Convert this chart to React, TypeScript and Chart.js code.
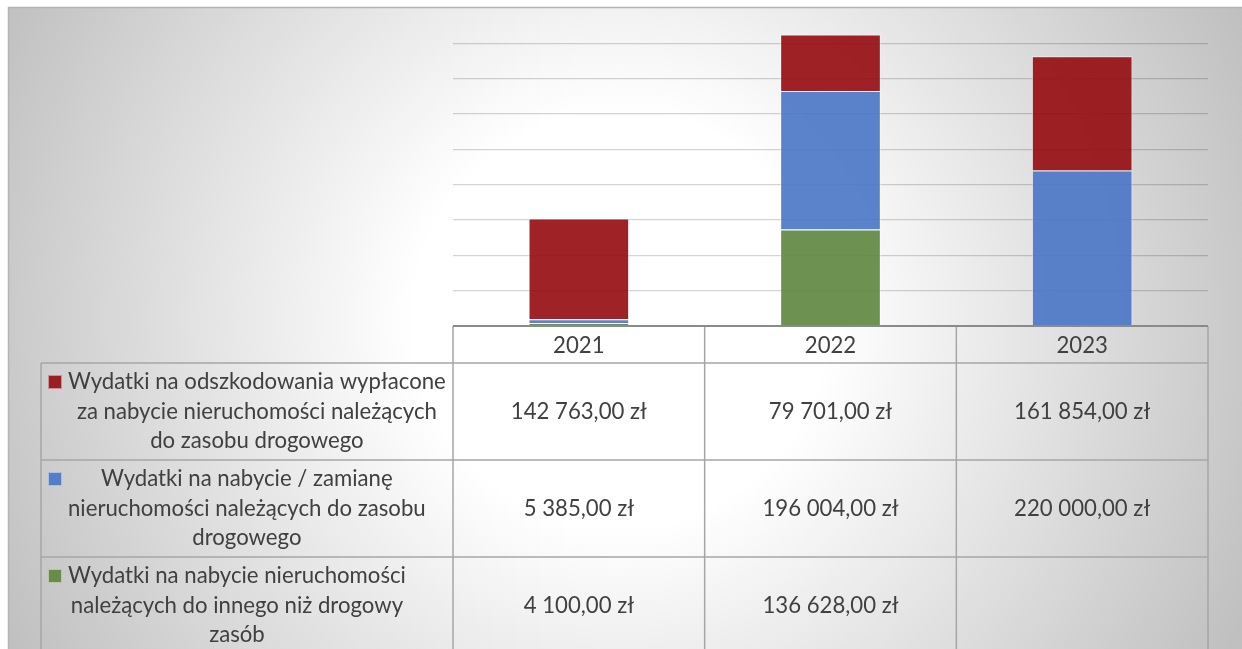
import React, { useEffect, useRef } from 'react';
import { Chart, registerables } from 'chart.js';

Chart.register(...registerables);

// ---- Data ----
const categories = ['2021', '2022', '2023'];
const odszkodowania: (number | null)[] = [142763, 79701, 161854];
const nabycieZamiana: (number | null)[] = [5385, 196004, 220000];
const innyZasob: (number | null)[] = [4100, 136628, null];

const seriesNames = [
  'Wydatki na odszkodowania wypłacone za nabycie nieruchomości należących do zasobu drogowego',
  'Wydatki na nabycie / zamianę nieruchomości należących do zasobu drogowego',
  'Wydatki na nabycie nieruchomości należących do innego niż drogowy zasób',
];
const legendLines = [
  ['Wydatki na odszkodowania wypłacone', 'za nabycie nieruchomości należących', 'do zasobu drogowego'],
  ['Wydatki na nabycie / zamianę', 'nieruchomości należących do zasobu', 'drogowego'],
  ['Wydatki na nabycie nieruchomości', 'należących do innego niż drogowy', 'zasób'],
];
const yMax = 450000;
const yStep = 50000;

const RED = 'rgba(147,10,14,0.9)';
const BLUE = 'rgba(73,117,197,0.9)';
const GREEN = 'rgba(92,133,61,0.9)';

function fmt(v: number | null | undefined): string {
  if (v === null || v === undefined) return '';
  const s = Math.round(v).toString().replace(/\B(?=(\d{3})+(?!\d))/g, ' ');
  return s + ',00 zł';
}

const FONT = 'Lato, "Open Sans", sans-serif';

export default function App() {
  const ref = useRef<HTMLCanvasElement>(null);

  useEffect(() => {
    const canvas = ref.current!;
    const W = 1242;
    const H = 649;

    const bgPlugin = {
      id: 'bgFrame',
      beforeDraw(chart: any) {
        const ctx = chart.ctx as CanvasRenderingContext2D;
        ctx.save();
        ctx.fillStyle = '#ffffff';
        ctx.fillRect(0, 0, W, H);
        const g = ctx.createRadialGradient(620, 320, 0, 620, 320, 690);
        g.addColorStop(0, '#ffffff');
        g.addColorStop(0.3, '#ffffff');
        g.addColorStop(1, '#c0c0c0');
        ctx.fillStyle = g;
        ctx.fillRect(8, 7, W - 8, H - 7);
        ctx.strokeStyle = '#b4b4b4';
        ctx.lineWidth = 1.5;
        ctx.beginPath();
        ctx.moveTo(8, 7.5);
        ctx.lineTo(W, 7.5);
        ctx.moveTo(8.5, 7);
        ctx.lineTo(8.5, H);
        ctx.stroke();
        ctx.restore();
      },
    };

    const tablePlugin = {
      id: 'dataTable',
      afterDraw(chart: any) {
        const ctx = chart.ctx as CanvasRenderingContext2D;
        const area = chart.chartArea;
        const left = area.left;
        const right = area.right;
        const axisY = area.bottom;
        const n = categories.length;
        const colW = (right - left) / n;
        const headerBottom = axisY + 37;
        const rowH = 97;
        const legendLeft = 41;
        const lineH = 29.5;

        const line = (x1: number, y1: number, x2: number, y2: number) => {
          ctx.beginPath();
          ctx.moveTo(x1, y1);
          ctx.lineTo(x2, y2);
          ctx.stroke();
        };

        ctx.save();
        ctx.strokeStyle = '#a6a6a6';
        ctx.lineWidth = 1.5;
        for (let r = 0; r <= 3; r++) {
          const y = headerBottom + r * rowH;
          line(legendLeft, y, right, y);
        }
        line(legendLeft, headerBottom, legendLeft, H);
        for (let i = 0; i <= n; i++) {
          const x = left + i * colW;
          line(x, axisY, x, H);
        }
        ctx.strokeStyle = '#8a8a8a';
        ctx.lineWidth = 2;
        line(left, axisY, right, axisY);

        // font size fitted to the reference text width
        let size = 22;
        ctx.font = `${size}px ${FONT}`;
        const m = ctx.measureText(legendLines[0][0]).width;
        size = (size * 378) / m;
        ctx.font = `${size}px ${FONT}`;
        ctx.fillStyle = '#404040';
        ctx.textAlign = 'center';
        ctx.textBaseline = 'middle';

        categories.forEach((c, i) => {
          ctx.fillText(c, left + (i + 0.5) * colW, axisY + 19.5);
        });

        const rowSeries = [odszkodowania, nabycieZamiana, innyZasob];
        const rowColors = [RED, BLUE, GREEN];
        rowSeries.forEach((series, r) => {
          const cy = headerBottom + r * rowH + rowH / 2;
          const lines = legendLines[r];
          let maxW = 0;
          lines.forEach((t) => {
            maxW = Math.max(maxW, ctx.measureText(t).width);
          });
          const cx = 68 + maxW / 2;
          lines.forEach((t, l) => {
            const y = cy + (l - (lines.length - 1) / 2) * lineH;
            ctx.fillText(t, cx, y);
          });
          const firstY = cy - ((lines.length - 1) / 2) * lineH;
          ctx.fillStyle = rowColors[r];
          ctx.fillRect(48, firstY - 7, 14, 14);
          ctx.strokeStyle = 'rgba(255,255,255,0.5)';
          ctx.lineWidth = 1;
          ctx.strokeRect(48.5, firstY - 6.5, 13, 13);
          ctx.fillStyle = '#404040';
          series.forEach((v, i) => {
            const txt = fmt(v);
            if (txt) ctx.fillText(txt, left + (i + 0.5) * colW, cy);
          });
        });
        ctx.restore();
      },
    };

    const chart = new Chart(canvas, {
      type: 'bar',
      data: {
        labels: categories,
        datasets: [
          { label: seriesNames[2], data: innyZasob, backgroundColor: GREEN, borderColor: 'rgba(255,255,255,0.55)', borderWidth: 1 },
          { label: seriesNames[1], data: nabycieZamiana, backgroundColor: BLUE, borderColor: 'rgba(255,255,255,0.55)', borderWidth: 1 },
          { label: seriesNames[0], data: odszkodowania, backgroundColor: RED, borderColor: 'rgba(255,255,255,0.55)', borderWidth: 1 },
        ],
      },
      options: {
        responsive: false,
        animation: false,
        layout: { padding: { left: 453, right: 34, top: 8, bottom: 323 } },
        plugins: { legend: { display: false }, tooltip: { enabled: false } },
        datasets: { bar: { categoryPercentage: 1, barPercentage: 0.4 } },
        scales: {
          x: { display: false, stacked: true },
          y: {
            stacked: true,
            min: 0,
            max: yMax,
            ticks: { display: false, stepSize: yStep },
            border: { display: false },
            grid: {
              drawTicks: false,
              lineWidth: 1.3,
              color: (c: any) =>
                c.tick && (c.tick.value === yMax || c.tick.value === 0) ? 'rgba(0,0,0,0)' : 'rgba(0,0,0,0.17)',
            },
          },
        },
      } as any,
      plugins: [bgPlugin, tablePlugin],
    });

    return () => chart.destroy();
  }, []);

  return (
    <div style={{ position: 'fixed', left: 0, top: 0, width: 1242, height: 649, overflow: 'hidden' }}>
      <canvas ref={ref} width={1242} height={649} style={{ display: 'block' }} />
    </div>
  );
}
